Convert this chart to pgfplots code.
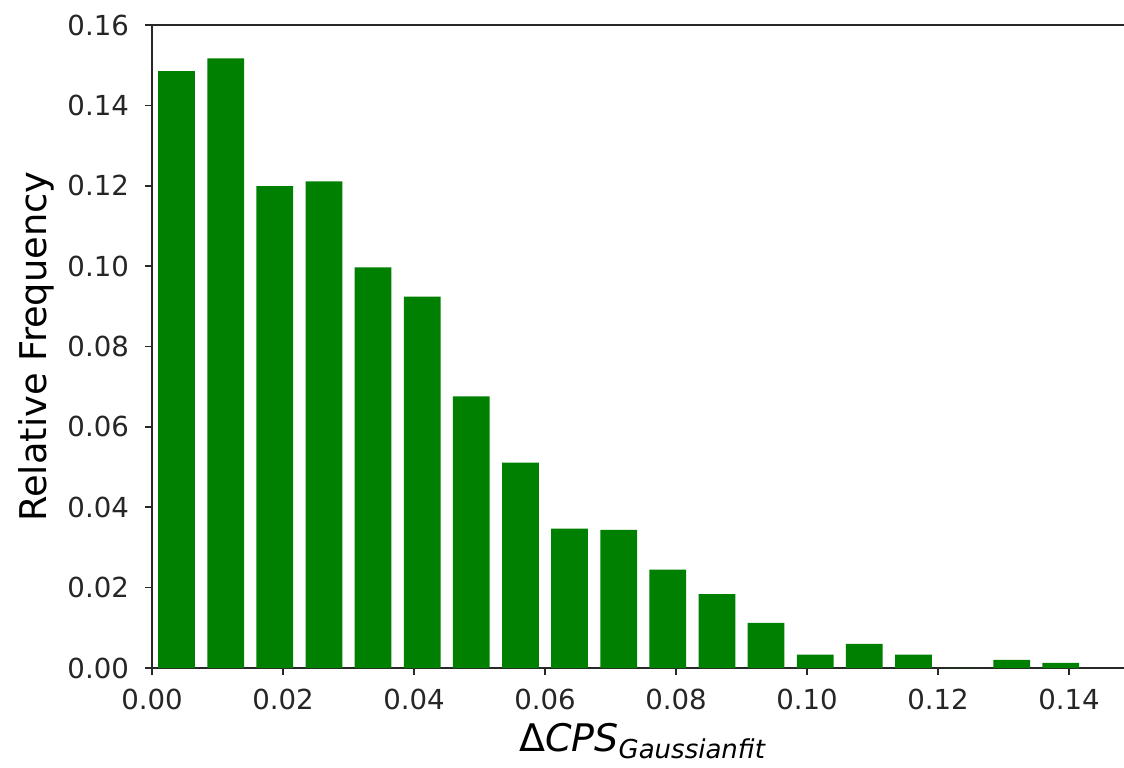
\documentclass[border=0pt]{standalone}
\usepackage{pgfplots}
\pgfplotsset{compat=1.18}
\usepackage{fontspec}
\setmainfont{DejaVu Sans}
\definecolor{mplgreen}{RGB}{0,128,0}
\definecolor{spine}{RGB}{40,40,40}
\begin{document}
\begin{tikzpicture}
\begin{axis}[
  scale only axis,
  width=486pt, height=321.5pt,
  xmin=0, xmax=0.1484,
  ymin=0, ymax=0.16,
  axis x line*=box,
  axis y line*=left,
  axis line style={spine, line width=1pt},
  xtick={0,0.02,...,0.14},
  ytick={0,0.02,...,0.16},
  xtick pos=bottom,
  ytick pos=left,
  tick align=outside,
  major tick length=3.5pt,
  tick style={spine, line width=0.8pt},
  /pgf/number format/assume math mode=true,
  /pgf/number format/fixed,
  /pgf/number format/fixed zerofill,
  /pgf/number format/precision=2,
  scaled x ticks=false,
  scaled y ticks=false,
  ticklabel style={font=\fontsize{13.8}{16}\selectfont, text=black!85},
  yticklabel shift=4.5pt,
  xticklabel shift=3.5pt,
  xlabel={\fontsize{19}{22}\selectfont Δ\textit{CPS}\raisebox{-0.17em}{\fontsize{13}{15}\selectfont\itshape Gaussianfit}},
  ylabel={\fontsize{18.4}{22}\selectfont Relative Frequency},
  xlabel style={xshift=2pt},
  ybar,
  bar width=0.0056,
]
\addplot[fill=mplgreen, draw=none] coordinates {
(0.00375,0.1485)
(0.01125,0.1517)
(0.01875,0.1199)
(0.02625,0.1211)
(0.03375,0.0997)
(0.04125,0.0924)
(0.04875,0.0676)
(0.05625,0.0511)
(0.06375,0.0347)
(0.07125,0.0344)
(0.07875,0.0245)
(0.08625,0.0184)
(0.09375,0.0112)
(0.10125,0.0033)
(0.10875,0.0060)
(0.11625,0.0033)
(0.12375,0.0)
(0.13125,0.0020)
(0.13875,0.0013)
};
\end{axis}
\pgfresetboundingbox
\path[use as bounding box] ([xshift=-76pt,yshift=-49.75pt]current axis.south west) rectangle ([yshift=12.5pt]current axis.north east);
\end{tikzpicture}
\end{document}
